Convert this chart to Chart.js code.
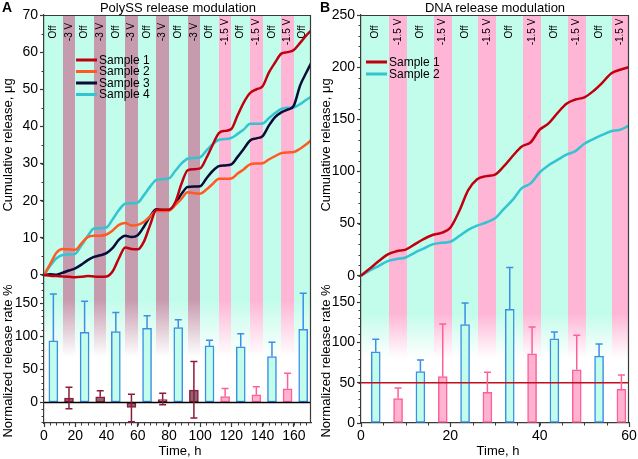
<!DOCTYPE html>
<html>
<head>
<meta charset="utf-8">
<script src="https://cdn.jsdelivr.net/npm/chart.js@4.4.0/dist/chart.umd.min.js"></script>
<style>
    body { margin: 0; background: #fff; font-family: "Liberation Sans", Arial, sans-serif; }
    #wrap { position: relative; width: 638px; height: 459px; overflow: hidden; }
    canvas { position: absolute; }
    .t { position: absolute; white-space: nowrap; color: #000; font-size: 13px; line-height: 15px; }
    .c { transform: translateX(-50%); }
    .rot { transform: translate(-50%, -50%) rotate(-90deg); }
    .lt { font-weight: bold; font-size: 14px; }
</style>
</head>
<body>
<div id="wrap">
    <canvas id="aTop" width="320" height="282" style="left:0;top:0"></canvas>
    <canvas id="bTop" width="320" height="282" style="left:318px;top:0"></canvas>
    <canvas id="aBot" width="320" height="197" style="left:0;top:262px"></canvas>
    <canvas id="bBot" width="320" height="197" style="left:318px;top:262px"></canvas>

    <div class="t lt" style="left:2px;top:0">A</div>
    <div class="t lt" style="left:320px;top:0">B</div>
    <div class="t c" style="left:178px;top:0">PolySS release modulation</div>
    <div class="t c" style="left:495px;top:0">DNA release modulation</div>
    <div class="t rot" style="left:7px;top:145px">Cumulative release, μg</div>
    <div class="t rot" style="left:7px;top:361px">Normalized release rate %</div>
    <div class="t rot" style="left:325px;top:145px">Cumulative release, μg</div>
    <div class="t rot" style="left:325px;top:361px">Normalized release rate %</div>
    <div class="t c" style="left:180px;top:443px">Time, h</div>
    <div class="t c" style="left:498px;top:443px">Time, h</div>
</div>

<script>
// ---- Panel A: PolySS ----
const timeA = [0, 4, 8, 12, 16, 20, 24, 28, 32, 36, 40, 44, 48, 52, 56, 60, 64, 68, 72, 76, 80, 84,
    88, 92, 96, 100, 104, 108, 112, 116, 120, 124, 128, 132, 136, 140, 144, 148, 152, 156, 160, 164, 168, 171];
const sample1A = [0, -0.2, -0.3, -0.4, -0.5, -0.6, -0.5, -0.3, -0.4, -0.5, -0.4, 1.0, 4.5, 7.4, 7.0, 6.9, 9.0, 13.5,
    17.6, 17.6, 17.6, 19.5, 24.5, 28.2, 28.5, 28.7, 31.5, 35.0, 38.2, 38.8, 39.3, 43.0, 46.5, 49.0, 50.0, 50.8,
    54.5, 57.2, 59.6, 60.0, 60.6, 62.5, 64.5, 65.8];
const sample2A = [0, 3.0, 6.0, 7.0, 6.9, 6.8, 8.5, 10.2, 10.6, 10.6, 10.9, 12.0, 13.5, 14.0, 13.3, 13.5, 14.3, 15.8,
    17.2, 17.2, 17.3, 18.8, 20.5, 22.3, 22.0, 21.9, 23.0, 24.5, 25.9, 25.9, 26.0, 27.3, 28.5, 29.8, 30.0, 30.1,
    31.1, 32.0, 32.8, 33.0, 33.1, 34.0, 35.2, 36.3];
const sample3A = [0, 0.2, 0.1, 0.6, 1.2, 1.8, 2.8, 4.0, 4.9, 5.3, 5.9, 7.3, 9.5, 10.6, 10.2, 10.7, 13.0, 15.8,
    17.7, 17.5, 17.5, 19.0, 21.8, 23.7, 23.8, 23.9, 26.0, 28.0, 29.3, 29.5, 29.8, 31.8, 34.0, 36.2, 36.8, 37.4,
    40.2, 42.5, 43.8, 44.5, 45.6, 51.0, 54.5, 57.0];
const sample4A = [0, 2.5, 4.5, 5.4, 5.5, 5.7, 8.0, 10.5, 12.5, 12.6, 12.8, 15.0, 17.5, 19.2, 19.3, 19.5, 21.5, 23.8,
    25.6, 25.8, 26.0, 28.0, 30.0, 31.3, 31.5, 31.7, 33.5, 35.2, 36.4, 36.6, 36.9, 38.0, 39.2, 40.7, 40.7, 40.8,
    42.2, 43.6, 44.7, 45.0, 45.1, 46.0, 47.2, 48.0];

const phaseEdgesA = [0, 12, 20, 32, 40, 52, 60, 72, 80, 92, 100, 112, 120, 132, 140, 152, 160, 171];
const phaseLabelsA = ["Off", "-3 V", "Off", "-3 V", "Off", "-3 V", "Off", "-3 V", "Off", "-3 V",
    "Off", "-1.5 V", "Off", "-1.5 V", "Off", "-1.5 V", "Off"];

// bars: one per phase
const barTimeA = [6, 16, 26, 36, 46, 56, 66, 76, 86, 96, 106, 116, 126, 136, 146, 156, 166];
const barValA = [93, 6.5, 106, 8.5, 107, -7.5, 112, 4.5, 113, 18.6, 85.4, 9, 84, 11.5, 69.3, 20.6, 110.5];
const errHiA = [164, 23, 153, 17.6, 136, 12.6, 131, 14, 125, 62, 94, 21, 104, 23.6, 91, 44, 165];
const errLoA = [null, -9.5, null, null, null, -29, null, -3.5, null, -23.6, null, null, null, null, null, null, null];

// ---- Panel B: DNA ----
const timeB = [0, 2, 4, 6, 8, 10, 12, 14, 16, 18, 20, 22, 24, 26, 28, 30, 32, 34, 36, 38, 40, 42, 44, 46, 48, 50,
    52, 54, 56, 58, 60];
const sample1B = [0, 7, 14, 20.5, 23.5, 25, 30, 35, 39, 41, 46, 62, 82, 92.5, 95.5, 97, 105, 115, 124, 128, 140,
    146, 156, 165, 169, 171, 177, 185, 194, 197.5, 200];
const sample2B = [0, 5, 9.5, 14, 16, 17.5, 22, 26, 30, 31.5, 32.5, 38, 44, 48, 51, 55, 64, 73, 84, 88.5, 99,
    106, 111, 116, 119.5, 126.5, 131, 135, 138.5, 140, 144];

const phaseEdgesB = [0, 6.3, 10.3, 16.3, 20.3, 26.3, 30.3, 36.3, 40.3, 46.3, 50.3, 56.3, 60];
const phaseLabelsB = ["Off", "-1.5 V", "Off", "-1.5 V", "Off", "-1.5 V", "Off", "-1.5 V", "Off", "-1.5 V", "Off", "-1.5 V"];

const barTimeB = [3.3, 8.3, 13.3, 18.3, 23.3, 28.3, 33.3, 38.3, 43.3, 48.3, 53.3, 58.3];
const barValB = [88.3, 30.4, 63.8, 57.5, 122, 38, 141, 86, 104.6, 66, 83, 41.7];
const errHiB = [103.8, 43.3, 78.3, 123, 149, 63, 193, 119, 113, 109, 98, 59.6];
const refLineB = 50;

// ---- styles ----
const AXIS = "#3a3a3a";
const phaseColors = { "Off": "#c2fcea", "-3 V": "#c69bae", "-1.5 V": "#ffb5d5" };
const barBorder = { "Off": "#3a8fe6", "-3 V": "#8c1c38", "-1.5 V": "#ff5e99" };
const barFill = { "Off": "#c2fcea", "-3 V": "#8f6878", "-1.5 V": "#ffb3d0" };

Chart.defaults.font.family = "'Liberation Sans', Arial, sans-serif";
Chart.defaults.color = "#000";

function toPts(xs, ys) {
    return xs.map((x, i) => ({ x: x, y: ys[i] }));
}

// vertical strips behind everything, with labels on the top charts
const phasePlugin = {
    id: "phases",
    beforeDraw(chart, args, o) {
        const { ctx, chartArea: a, scales: { x } } = chart;
        ctx.save();
        o.labels.forEach((lab, i) => {
            const x0 = Math.round(x.getPixelForValue(o.edges[i]));
            const x1 = Math.round(x.getPixelForValue(o.edges[i + 1]));
            const col = phaseColors[lab];
            if (o.fade) {
                const g = ctx.createLinearGradient(0, a.top, 0, a.bottom);
                const h = a.bottom - a.top;
                g.addColorStop(0, col);
                g.addColorStop(o.fade[0] / h, col);
                g.addColorStop(o.fade[1] / h, col + "00");
                g.addColorStop(1, col + "00");
                ctx.fillStyle = g;
            } else {
                ctx.fillStyle = col;
            }
            ctx.fillRect(x0, a.top, x1 - x0, a.bottom - a.top);
        });
        ctx.restore();
    },
    beforeDatasetsDraw(chart, args, o) {
        if (!o.text) return;
        const { ctx, scales: { x } } = chart;
        ctx.save();
        ctx.font = "10px 'Liberation Sans', Arial, sans-serif";
        ctx.fillStyle = "#000";
        ctx.textAlign = "center";
        ctx.textBaseline = "middle";
        o.labels.forEach((lab, i) => {
            const cx = (x.getPixelForValue(o.edges[i]) + x.getPixelForValue(o.edges[i + 1])) / 2;
            ctx.save();
            ctx.translate(cx, o.textY);
            ctx.rotate(-Math.PI / 2);
            ctx.fillText(lab, 0, 0);
            ctx.restore();
        });
        ctx.restore();
    }
};

// top/right borders and minor ticks
const framePlugin = {
    id: "frame",
    afterDraw(chart, args, o) {
        const { ctx, chartArea: a, scales } = chart;
        ctx.save();
        ctx.strokeStyle = AXIS;
        ctx.lineWidth = 1.2;
        ctx.beginPath();
        if (o.top) { ctx.moveTo(a.left, a.top + 0.5); ctx.lineTo(a.right, a.top + 0.5); }
        if (o.right) { ctx.moveTo(a.right - 0.5, a.top); ctx.lineTo(a.right - 0.5, a.bottom); }
        ctx.stroke();
        ctx.lineWidth = 1;
        ctx.beginPath();
        if (o.minorY) {
            const [from, to, step] = o.minorY;
            for (let v = from; v <= to + 1e-6; v += step) {
                const py = Math.round(scales.y.getPixelForValue(v)) + 0.5;
                ctx.moveTo(a.left, py); ctx.lineTo(a.left - 2.5, py);
            }
        }
        if (o.minorX) {
            const [from, to, step] = o.minorX;
            for (let v = from; v <= to + 1e-6; v += step) {
                const px = Math.round(scales.x.getPixelForValue(v)) + 0.5;
                ctx.moveTo(px, a.bottom); ctx.lineTo(px, a.bottom + 2.5);
            }
        }
        ctx.stroke();
        ctx.restore();
    }
};

// error bars and horizontal reference line
const errPlugin = {
    id: "errs",
    afterDatasetsDraw(chart, args, o) {
        const { ctx, chartArea: a, scales: { x, y } } = chart;
        ctx.save();
        if (o.refValue !== undefined) {
            const py = y.getPixelForValue(o.refValue);
            ctx.strokeStyle = o.refColor;
            ctx.lineWidth = o.refWidth;
            ctx.beginPath();
            ctx.moveTo(a.left, py); ctx.lineTo(a.right, py);
            ctx.stroke();
        }
        chart.data.datasets.forEach((ds, di) => {
            const meta = chart.getDatasetMeta(di);
            ctx.strokeStyle = ds.borderColor;
            ctx.lineWidth = 1.5;
            meta.data.forEach((el, j) => {
                const top = y.getPixelForValue(ds.data[j].y);
                const ends = [ds.errHi[j], ds.errLo[j]];
                ends.forEach(e => {
                    if (e === null || e === undefined) return;
                    const pe = y.getPixelForValue(e);
                    ctx.beginPath();
                    ctx.moveTo(el.x, top); ctx.lineTo(el.x, pe);
                    ctx.moveTo(el.x - 3.5, pe); ctx.lineTo(el.x + 3.5, pe);
                    ctx.stroke();
                });
            });
        });
        ctx.restore();
    }
};

// small legend inside the plot
const legendPlugin = {
    id: "miniLegend",
    afterDraw(chart, args, o) {
        const { ctx } = chart;
        ctx.save();
        ctx.font = "12px 'Liberation Sans', Arial, sans-serif";
        ctx.textBaseline = "middle";
        chart.data.datasets.forEach((ds, i) => {
            const yy = o.y + i * o.dy;
            ctx.strokeStyle = ds.borderColor;
            ctx.lineWidth = 3;
            ctx.beginPath();
            ctx.moveTo(o.x, yy); ctx.lineTo(o.x + o.len, yy);
            ctx.stroke();
            ctx.fillStyle = "#000";
            ctx.fillText(ds.label, o.x + o.len + 2, yy + 0.5);
        });
        ctx.restore();
    }
};

function majors(from, to, step) {
    const out = [];
    for (let v = from; v <= to + 1e-6; v += step) out.push({ value: v });
    return out;
}

function yScale(min, max, ticks, width) {
    return {
        type: "linear", min: min, max: max,
        afterBuildTicks: s => { s.ticks = ticks; },
        afterFit: s => { s.width = width; s.paddingTop = 0; s.paddingBottom = 0; },
        grid: { display: true, drawOnChartArea: false, drawTicks: true, tickLength: 4, tickColor: AXIS, tickWidth: 1.2 },
        border: { display: true, color: AXIS, width: 1.2 },
        ticks: { font: { size: 14 }, color: "#000", padding: 2 }
    };
}

function xScale(min, max, ticks, show) {
    if (!show) return { type: "linear", min: min, max: max, display: false, offset: false };
    return {
        type: "linear", min: min, max: max, offset: false,
        afterBuildTicks: s => { s.ticks = ticks; },
        afterFit: s => { s.height = 36; s.paddingLeft = 0; s.paddingRight = 0; },
        grid: { display: true, drawOnChartArea: false, drawTicks: true, tickLength: 4, tickColor: AXIS, tickWidth: 1.2, offset: false },
        border: { display: true, color: AXIS, width: 1.2 },
        ticks: { font: { size: 14 }, color: "#000", padding: 1, maxRotation: 0 }
    };
}

function lineChart(id, datasets, xmax, ymin, ymax, yTicks, yWidth, edges, labels, legend, minorY) {
    return new Chart(document.getElementById(id), {
        type: "line",
        data: { datasets: datasets },
        options: {
            responsive: false, animation: false, devicePixelRatio: 1,
            layout: { padding: { left: 0, top: 15, right: 9, bottom: 0 } },
            elements: { point: { radius: 0 }, line: { borderWidth: 2.5, cubicInterpolationMode: "monotone" } },
            plugins: {
                legend: { display: false }, tooltip: { enabled: false },
                phases: { edges: edges, labels: labels, text: true, textY: 32 },
                frame: { top: true, right: true, minorY: minorY },
                miniLegend: legend
            },
            scales: { x: xScale(0, xmax, null, false), y: yScale(ymin, ymax, yTicks, yWidth) }
        },
        plugins: [phasePlugin, framePlugin, legendPlugin]
    });
}

function barSets(times, vals, hi, lo, labels, thick) {
    return ["Off", "-3 V", "-1.5 V"].map(kind => {
        const idx = labels.map((l, i) => l === kind ? i : -1).filter(i => i >= 0);
        return {
            type: "bar",
            data: idx.map(i => ({ x: times[i], y: vals[i] })),
            errHi: idx.map(i => hi[i]),
            errLo: idx.map(i => lo ? lo[i] : null),
            backgroundColor: barFill[kind], borderColor: barBorder[kind],
            borderWidth: 1.5, borderSkipped: false, barThickness: thick, grouped: false
        };
    }).filter(d => d.data.length);
}

function barChart(id, datasets, xmax, xTicks, ymin, ymax, yTicks, yWidth, edges, labels, fade, err, minorX, minorY) {
    return new Chart(document.getElementById(id), {
        type: "bar",
        data: { datasets: datasets },
        options: {
            responsive: false, animation: false, devicePixelRatio: 1,
            layout: { padding: { left: 0, top: 20, right: 9, bottom: 0 } },
            plugins: {
                legend: { display: false }, tooltip: { enabled: false },
                phases: { edges: edges, labels: labels, fade: fade },
                frame: { right: true, minorX: minorX, minorY: minorY },
                errs: err
            },
            scales: { x: xScale(0, xmax, xTicks, true), y: yScale(ymin, ymax, yTicks, yWidth) }
        },
        plugins: [phasePlugin, framePlugin, errPlugin]
    });
}

// ---- Panel A ----
lineChart("aTop", [
    { label: "Sample 1", data: toPts(timeA, sample1A), borderColor: "#c0000f" },
    { label: "Sample 2", data: toPts(timeA, sample2A), borderColor: "#ff5a23" },
    { label: "Sample 3", data: toPts(timeA, sample3A), borderColor: "#0b0b38" },
    { label: "Sample 4", data: toPts(timeA, sample4A), borderColor: "#33c4d2" }
], 171, -1.885, 70, majors(0, 70, 10), 44, phaseEdgesA, phaseLabelsA,
    { x: 76, y: 60, dy: 11.5, len: 21 }, [0, 70, 5]);

barChart("aBot", barSets(barTimeA, barValA, errHiA, errLoA, phaseLabelsA, 9),
    171, majors(0, 160, 20), -31, 182, majors(0, 150, 50), 44, phaseEdgesA, phaseLabelsA,
    [18, 75], { refValue: 0, refColor: "#000", refWidth: 1.5 }, [0, 171, 4], [-30, 180, 10]);

// ---- Panel B ----
lineChart("bTop", [
    { label: "Sample 1", data: toPts(timeB, sample1B), borderColor: "#c0000f" },
    { label: "Sample 2", data: toPts(timeB, sample2B), borderColor: "#33c4d2" }
], 60, -6.04, 250, majors(0, 250, 50), 43, phaseEdgesB, phaseLabelsB,
    { x: 48, y: 62, dy: 12, len: 21 }, [0, 250, 10]);

barChart("bBot", barSets(barTimeB, barValB, errHiB, null, phaseLabelsB, 9),
    60, majors(0, 60, 20), 0, 175, majors(0, 150, 50), 43, phaseEdgesB, phaseLabelsB,
    [31, 76], { refValue: refLineB, refColor: "#c0101c", refWidth: 1.5 }, [0, 60, 5], [0, 170, 10]);
</script>
</body>
</html>
